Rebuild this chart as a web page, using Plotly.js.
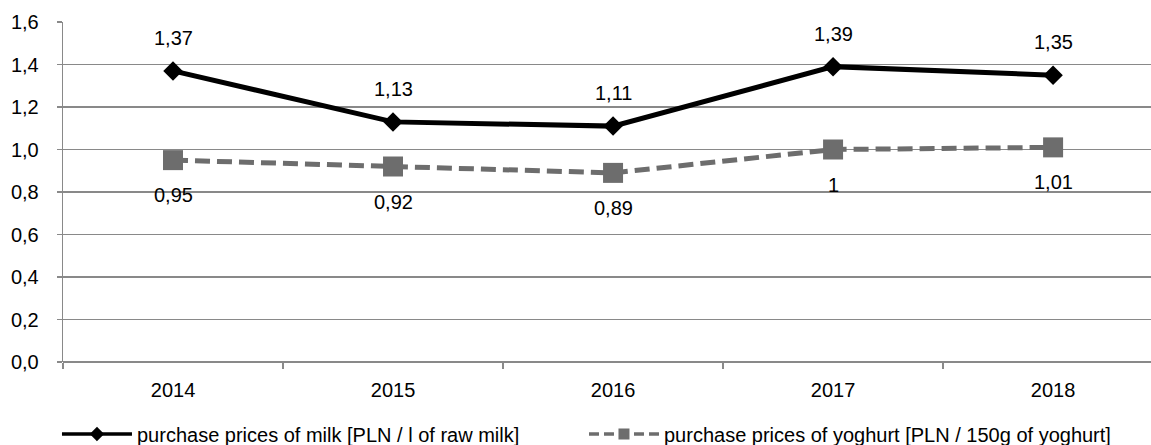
<!DOCTYPE html>
<html><head><meta charset="utf-8">
<script src="https://cdn.plot.ly/plotly-3.0.1.min.js"></script>
<style>html,body{margin:0;padding:0;background:#fff}#chart{width:1151px;height:445px}</style>
</head><body><div id="chart"></div>
<script>
var years = ['2014', '2015', '2016', '2017', '2018'];
var milkPrices = [1.37, 1.13, 1.11, 1.39, 1.35];
var yoghurtPrices = [0.95, 0.92, 0.89, 1.00, 1.01];
var milkName = 'purchase prices of milk [PLN / l of raw milk]';
var yoghurtName = 'purchase prices of yoghurt [PLN / 150g of yoghurt]';

function fmt(v) { return String(v).replace('.', ','); }
function F() { return {family: 'Liberation Sans, Arial, sans-serif', size: 20, color: '#000'}; }

var milkColor = '#000', yogColor = '#6d6d6d';

var traces = [
  {x: years, y: milkPrices, name: milkName, type: 'scatter', mode: 'lines+markers', showlegend: false,
   line: {color: milkColor, width: 5}, marker: {symbol: 'diamond', size: 15, color: milkColor}},
  {x: years, y: yoghurtPrices, name: yoghurtName, type: 'scatter', mode: 'lines+markers', showlegend: false,
   line: {color: yogColor, width: 5, dash: '15px,7px'}, marker: {symbol: 'square', size: 20, color: yogColor}},
  // legend entries (no data points), drawn with the thinner legend styling of the original
  {x: [null], y: [null], name: milkName, type: 'scatter', mode: 'lines+markers',
   line: {color: milkColor, width: 3.5}, marker: {symbol: 'diamond', size: 11, color: milkColor}},
  {x: [null], y: [null], name: yoghurtName, type: 'scatter', mode: 'lines+markers',
   line: {color: yogColor, width: 3.5, dash: '10px,5px'}, marker: {symbol: 'square', size: 11, color: yogColor}}
];

var annotations = [];
years.forEach(function (yr, i) {
  annotations.push({x: i, y: milkPrices[i], xref: 'x', yref: 'y', text: fmt(milkPrices[i]),
                    showarrow: false, yshift: 33, font: F()});
  annotations.push({x: i, y: yoghurtPrices[i], xref: 'x', yref: 'y', text: fmt(yoghurtPrices[i]),
                    showarrow: false, yshift: -35, font: F()});
});

var layout = {
  width: 1151, height: 445,
  margin: {l: 63, r: 0, t: 22, b: 83, autoexpand: false},
  paper_bgcolor: '#fff', plot_bgcolor: '#fff',
  separators: ',.',
  font: F(),
  showlegend: true,
  legend: {orientation: 'h', xref: 'container', yref: 'container', x: 0.0495, xanchor: 'left',
           y: 0.0247, yanchor: 'middle', font: F(), itemwidth: 70,
           entrywidth: 442, entrywidthmode: 'pixels', bgcolor: 'rgba(0,0,0,0)'},
  xaxis: {type: 'category', range: [-0.5, 4.445], showgrid: false, zeroline: false,
          showline: false, ticks: 'outside', tickson: 'boundaries', ticklen: 6,
          tickcolor: '#898989', tickwidth: 1.3, tickfont: F(), ticklabelstandoff: 14},
  yaxis: {range: [0, 1.6], dtick: 0.2, tickformat: '.1f', showgrid: true, gridcolor: '#898989',
          gridwidth: 1.3, zeroline: true, zerolinecolor: '#898989', zerolinewidth: 1.3,
          showline: true, linecolor: '#898989', linewidth: 1.3, ticks: 'outside', ticklen: 5,
          tickcolor: '#898989', tickwidth: 1.3, tickfont: F(), ticklabelstandoff: 14},
  annotations: annotations
};

Plotly.newPlot('chart', traces, layout, {displayModeBar: false, staticPlot: true});
</script></body></html>
